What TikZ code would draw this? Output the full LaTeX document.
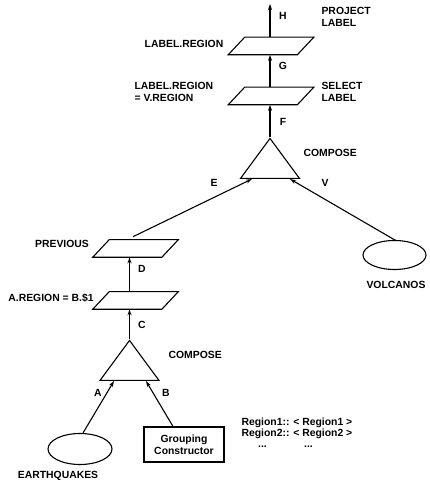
\documentclass[tikz,border=0pt]{standalone}
\usepackage{fontspec}
\setmainfont{Liberation Sans}
\usetikzlibrary{shapes.geometric,arrows.meta,calc}

\begin{document}
\begin{tikzpicture}[x=1pt,y=1pt,
  font=\fontsize{10.4}{12}\selectfont\bfseries,
  line width=1.1pt,
  lab/.style={inner sep=0pt, align=left},
  % a selection / projection operator: a parallelogram leaning to the right,
  % drawn round an invisible rectangle that carries the name
  para/.style={minimum width=68, minimum height=16.5, inner sep=0pt,
    append after command={
      \pgfextra{\draw ([xshift=-8.25]\tikzlastnode.south west)
        -- ([xshift=-8.25]\tikzlastnode.south east)
        -- ([xshift=8.25]\tikzlastnode.north east)
        -- ([xshift=8.25]\tikzlastnode.north west) -- cycle;}}},
  tri/.style={draw, isosceles triangle, isosceles triangle stretches,
    shape border rotate=90, minimum width=59, minimum height=40, inner sep=1pt,
    anchor=lower side},
  blob/.style={draw, ellipse, inner sep=0pt},
  flow/.style={-{Stealth[length=6pt,width=4pt]}}]
\useasboundingbox (0,0) rectangle (430,487);

% operators of the query tree
\node[para] (p1) at (271,441) {};
\node[para] (p2) at (271,391) {};
\node[tri] (t1) at (270,308) {};
\node[para] (p3) at (135.5,238.5) {};
\node[para] (p4) at (135.5,186.5) {};
\node[tri] (t2) at (129.5,106) {};

% leaves
\node[blob, minimum width=64, minimum height=31] (eq) at (80,38) {};
\node[blob, minimum width=63, minimum height=29] (volc) at (394.5,232) {};
\node[draw, minimum width=80, minimum height=35, inner sep=0pt, align=center] (grp) at (184,42.5)
  {Grouping\\Constructor};

% connectors
\coordinate (out) at (270,483);
\draw[flow] (p1.north -| out) -- (out);
\draw[flow] (p2.north -| out) -- (p1.south -| out);
\draw[flow] (t1.apex) -- (p2.south -| t1.apex);
\draw[flow] ($(p3.north)+(-2.5,3)$) -- ($(t1.lower side)+(-18,0)$);
\draw[flow] ($(volc.north)+(2,-1)$) -- ($(t1.lower side)+(20,0)$);
\draw[flow] (p4.north -| t2.apex) -- (p3.south -| t2.apex);
\draw[flow] (t2.apex) -- (p4.south -| t2.apex);
\draw[flow] ($(eq.north)+(3,0)$) -- ($(t2.lower side)+(-15.5,0)$);
\draw[flow] ($(grp.north)+(-11,0)$) -- ($(t2.lower side)+(16.5,0)$);

% labels
\node[lab] (lH) at (283,471) {H};
\node[lab, anchor=west] (lproj) at (321,470) {PROJECT\\LABEL};
\node[lab] (lp1) at (184,443) {LABEL.REGION};
\node[lab] (lG) at (283,421) {G};
\node[lab, anchor=west] (lp2) at (134,395) {LABEL.REGION\\= V.REGION};
\node[lab, anchor=west] (lsel) at (321,395) {SELECT\\LABEL};
\node[lab] (lF) at (283,365) {F};
\node[lab, anchor=west] (lc1) at (303,334) {COMPOSE};
\node[lab] (lE) at (214,304) {E};
\node[lab] (lV) at (325,304) {V};
\node[lab] (lp3) at (62,243) {PREVIOUS};
\node[lab] (lD) at (142,218) {D};
\node[lab] (lp4) at (51,189) {A.REGION = B.\$1};
\node[lab] (lC) at (142,162) {C};
\node[lab, anchor=west] (lc2) at (168,132) {COMPOSE};
\node[lab] (lA) at (98,94) {A};
\node[lab] (lB) at (166,94) {B};
\node[lab] (leq) at (58,11) {EARTHQUAKES};
\node[lab] (lvolc) at (396,202) {VOLCANOS};
\node[lab, anchor=north west, font=\fontsize{10.4}{11.3}\selectfont\bfseries] (lreg) at (241,70)
  {Region1:: < Region1 >\\Region2:: < Region2 >\\\hspace*{16.6pt}...\hspace*{37.3pt}...};
\end{tikzpicture}
\end{document}
